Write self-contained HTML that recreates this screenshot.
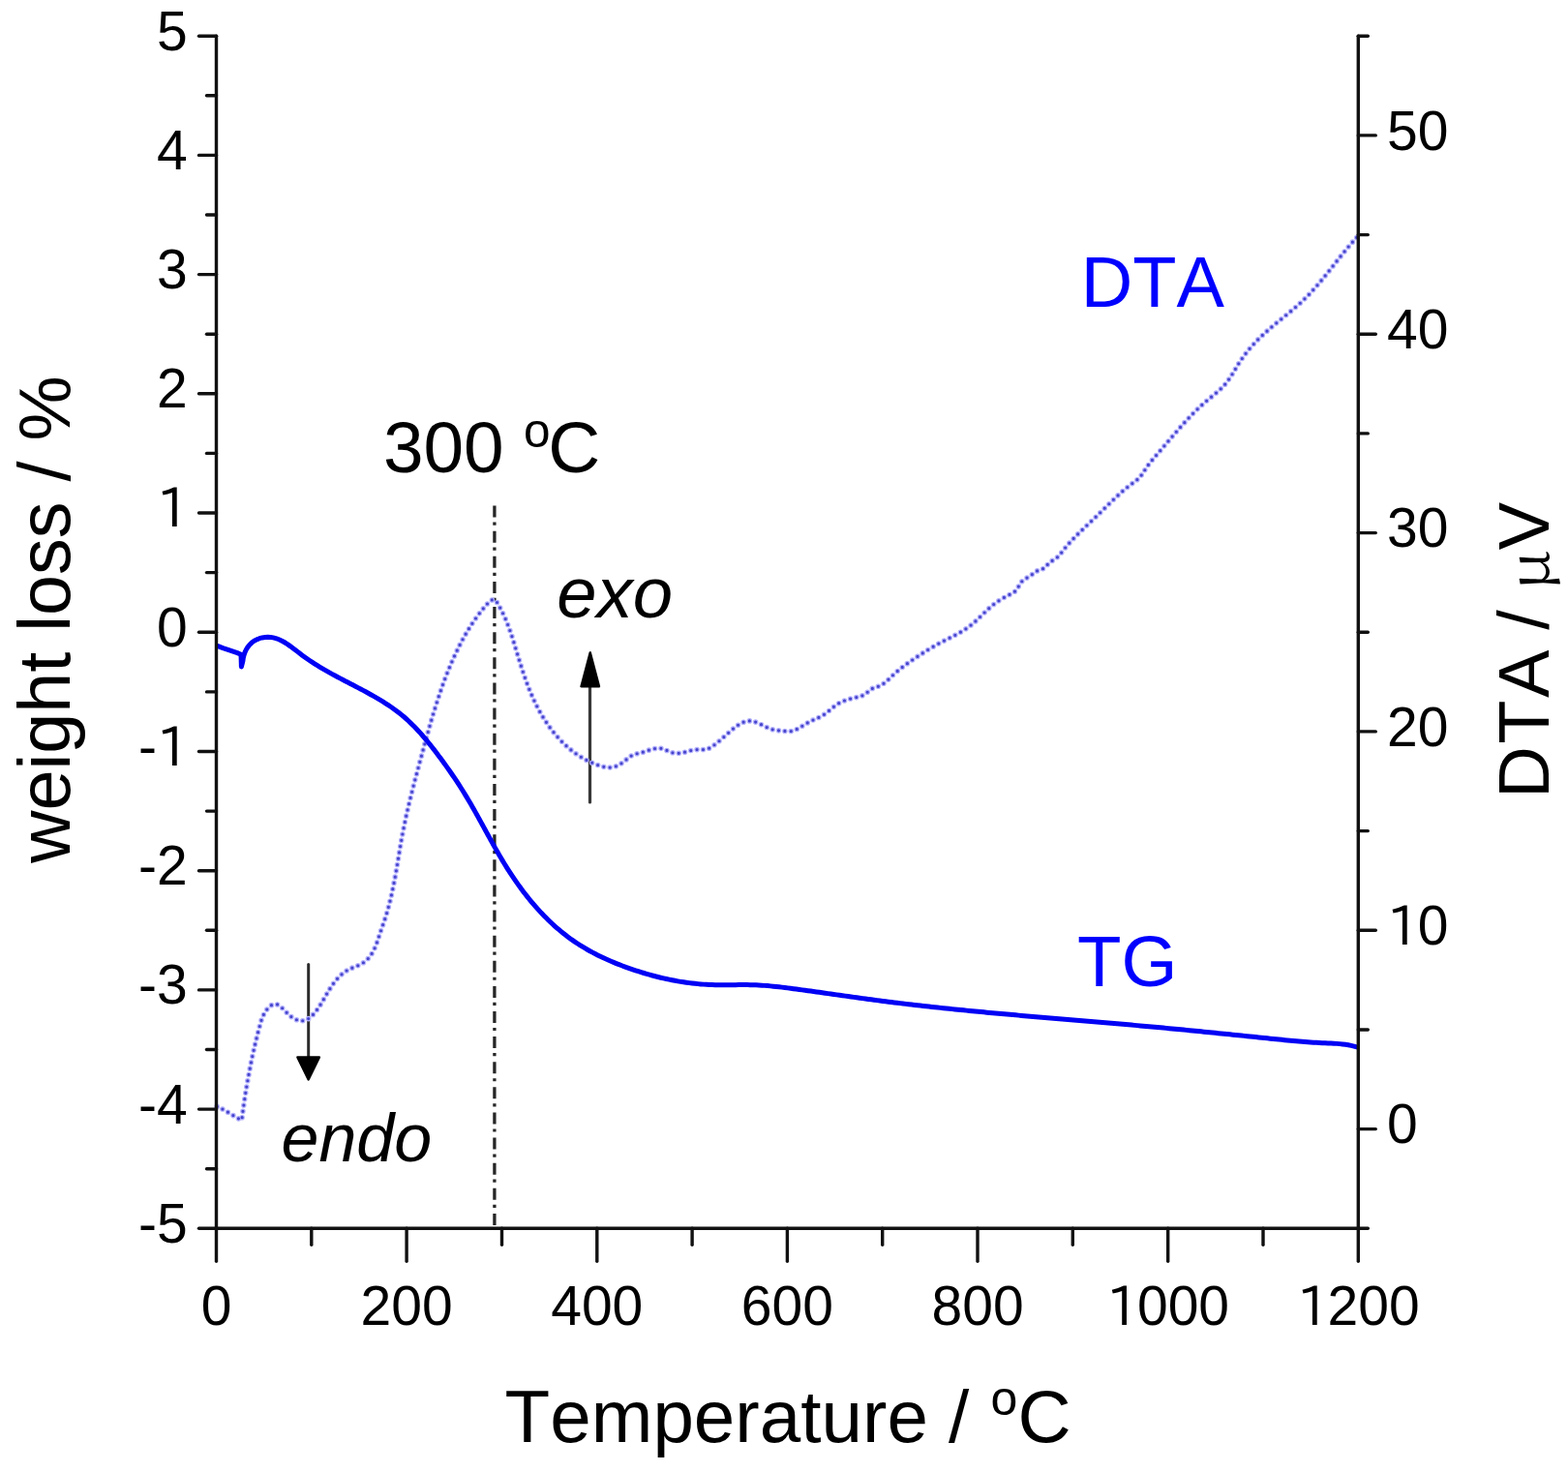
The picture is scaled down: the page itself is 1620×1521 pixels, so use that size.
<!DOCTYPE html>
<html><head><meta charset="utf-8"><title>TG-DTA</title>
<style>html,body{margin:0;padding:0;background:#fff;}svg{display:block;}text{font-family:'Liberation Sans', Arial, sans-serif;font-kerning:none;font-feature-settings:"kern" 0;}</style></head><body>
<svg width="1620" height="1521" viewBox="0 0 1620 1521">
<rect width="1620" height="1521" fill="#fff"/>
<g font-size="57" fill="#000">
<text x="142.92" y="1283.90"><tspan x="142.92" y="1283.90">-</tspan><tspan x="161.90" y="1283.90">5</tspan></text>
<text x="142.92" y="1160.69"><tspan x="142.92" y="1160.69">-</tspan><tspan x="161.90" y="1160.69">4</tspan></text>
<text x="142.92" y="1037.48"><tspan x="142.92" y="1037.48">-</tspan><tspan x="161.90" y="1037.48">3</tspan></text>
<text x="142.92" y="914.27"><tspan x="142.92" y="914.27">-</tspan><tspan x="161.90" y="914.27">2</tspan></text>
<text x="142.92" y="791.06"><tspan x="142.92" y="791.06">-</tspan><tspan x="161.70" y="791.56" font-family="IPAPGothic, IPAGothic, 'Liberation Sans', sans-serif" font-size="54.5">1</tspan></text>
<text x="161.90" y="667.85"><tspan x="161.90" y="667.85">0</tspan></text>
<text x="161.90" y="544.64"><tspan x="161.70" y="545.14" font-family="IPAPGothic, IPAGothic, 'Liberation Sans', sans-serif" font-size="54.5">1</tspan></text>
<text x="161.90" y="421.43"><tspan x="161.90" y="421.43">2</tspan></text>
<text x="161.90" y="298.22"><tspan x="161.90" y="298.22">3</tspan></text>
<text x="161.90" y="175.01"><tspan x="161.90" y="175.01">4</tspan></text>
<text x="161.90" y="51.80"><tspan x="161.90" y="51.80">5</tspan></text>
<text x="1433.00" y="1181.42"><tspan x="1433.00" y="1181.42">0</tspan></text>
<text x="1433.00" y="976.07"><tspan x="1432.80" y="976.57" font-family="IPAPGothic, IPAGothic, 'Liberation Sans', sans-serif" font-size="54.5">1</tspan><tspan x="1464.70" y="976.07">0</tspan></text>
<text x="1433.00" y="770.73"><tspan x="1433.00" y="770.73">2</tspan><tspan x="1464.70" y="770.73">0</tspan></text>
<text x="1433.00" y="565.37"><tspan x="1433.00" y="565.37">3</tspan><tspan x="1464.70" y="565.37">0</tspan></text>
<text x="1433.00" y="360.03"><tspan x="1433.00" y="360.03">4</tspan><tspan x="1464.70" y="360.03">0</tspan></text>
<text x="1433.00" y="154.68"><tspan x="1433.00" y="154.68">5</tspan><tspan x="1464.70" y="154.68">0</tspan></text>
<text x="207.65" y="1369.20"><tspan x="207.65" y="1369.20">0</tspan></text>
<text x="372.58" y="1369.20"><tspan x="372.58" y="1369.20">2</tspan><tspan x="404.28" y="1369.20">0</tspan><tspan x="435.98" y="1369.20">0</tspan></text>
<text x="569.22" y="1369.20"><tspan x="569.22" y="1369.20">4</tspan><tspan x="600.92" y="1369.20">0</tspan><tspan x="632.62" y="1369.20">0</tspan></text>
<text x="765.85" y="1369.20"><tspan x="765.85" y="1369.20">6</tspan><tspan x="797.55" y="1369.20">0</tspan><tspan x="829.25" y="1369.20">0</tspan></text>
<text x="962.48" y="1369.20"><tspan x="962.48" y="1369.20">8</tspan><tspan x="994.18" y="1369.20">0</tspan><tspan x="1025.88" y="1369.20">0</tspan></text>
<text x="1143.27" y="1369.20"><tspan x="1143.07" y="1369.70" font-family="IPAPGothic, IPAGothic, 'Liberation Sans', sans-serif" font-size="54.5">1</tspan><tspan x="1174.97" y="1369.20">0</tspan><tspan x="1206.67" y="1369.20">0</tspan><tspan x="1238.37" y="1369.20">0</tspan></text>
<text x="1339.90" y="1369.20"><tspan x="1339.70" y="1369.70" font-family="IPAPGothic, IPAGothic, 'Liberation Sans', sans-serif" font-size="54.5">1</tspan><tspan x="1371.60" y="1369.20">2</tspan><tspan x="1403.30" y="1369.20">0</tspan><tspan x="1435.00" y="1369.20">0</tspan></text>
</g>
<text x="521.6" y="1489.5" font-size="76.4" fill="#000">Temperature / <tspan x="1023.4" y="1462.3" font-size="50">o</tspan><tspan x="1051.4" y="1489.5">C</tspan></text>
<text transform="translate(72.4,892) rotate(-90)" font-size="75.5" fill="#000">weight loss / %</text>
<text transform="translate(1600.3,0) rotate(-90)" font-size="74" fill="#000"><tspan x="-824.7">D</tspan><tspan x="-768.8">T</tspan><tspan x="-721">A</tspan><tspan x="-650.7">/ </tspan></text>
<text transform="translate(1600.3,610.0) rotate(-90) scale(1.16,1)" style="font-family:'Noto Serif CJK SC', 'Liberation Serif', serif" font-size="57" fill="#000">&#956;</text>
<text transform="translate(1600.3,568.3) rotate(-90)" font-size="74" fill="#000">V</text>
<text x="395.9" y="488.2" font-size="74.8" fill="#000">300<tspan x="540.9" y="462.3" font-size="49.5">o</tspan><tspan x="566.3" y="488.2">C</tspan></text>
<text x="575.2" y="638.2" font-size="74.3" font-style="italic" fill="#000">exo</text>
<text x="290.5" y="1200.3" font-size="70" font-style="italic" fill="#000">endo</text>
<text x="1116.8" y="317.4" font-size="74.1" fill="#0000ff">DTA</text>
<text x="1113" y="1019.1" font-size="74.5" fill="#0000ff">TG</text>
<line x1="510.9" y1="522.6" x2="510.9" y2="1268.3" stroke="#262626" stroke-width="3.3" stroke-dasharray="12 4.9 3.2 6.02"/>
<line x1="318.7" y1="996.6" x2="318.7" y2="1093" stroke="#2a2a2a" stroke-width="3.0" stroke-linecap="round"/>
<path d="M307.4,1092.4 L329.9,1092.4 L318.65,1115.4 Z" fill="#000" stroke="#000" stroke-width="2.4" stroke-linejoin="round"/>
<line x1="609.5" y1="829" x2="609.5" y2="709" stroke="#383838" stroke-width="3.2" stroke-linecap="round"/>
<path d="M600.5,709.2 L619.0,709.2 L609.75,674.3 Z" fill="#000" stroke="#000" stroke-width="2.4" stroke-linejoin="round"/>
<path d="M224.11,1143.39 L226.04,1144.18 L227.93,1145.05 L229.79,1145.98 L231.62,1146.97 L233.43,1148.00 L235.22,1149.06 L237.00,1150.15 L238.77,1151.25 L240.55,1152.35 L242.32,1153.44 L244.11,1154.51 L245.92,1155.54 L247.75,1156.54 L249.61,1157.49 L250.01,1155.51 L250.26,1153.54 L250.52,1151.57 L250.78,1149.60 L251.04,1147.63 L251.31,1145.66 L251.59,1143.69 L251.87,1141.72 L252.16,1139.74 L252.45,1137.77 L252.74,1135.80 L253.04,1133.82 L253.35,1131.85 L253.66,1129.88 L253.97,1127.91 L254.29,1125.93 L254.62,1123.96 L254.95,1121.99 L255.28,1120.02 L255.62,1118.05 L255.97,1116.08 L256.32,1114.11 L256.68,1112.14 L257.04,1110.18 L257.41,1108.21 L257.78,1106.25 L258.16,1104.29 L258.55,1102.33 L258.94,1100.37 L259.33,1098.41 L259.73,1096.45 L260.14,1094.50 L260.55,1092.54 L260.97,1090.59 L261.39,1088.64 L261.82,1086.69 L262.26,1084.75 L262.70,1082.81 L263.15,1080.86 L263.60,1078.93 L264.06,1076.99 L264.53,1075.06 L265.00,1073.13 L265.48,1071.20 L265.97,1069.27 L266.46,1067.35 L266.95,1065.43 L267.46,1063.52 L267.97,1061.60 L268.48,1059.70 L269.01,1057.79 L269.55,1055.89 L270.14,1053.99 L270.80,1052.10 L271.56,1050.22 L272.43,1048.35 L273.44,1046.50 L274.61,1044.66 L275.92,1042.89 L277.34,1041.26 L278.85,1039.84 L280.41,1038.69 L282.00,1037.88 L283.58,1037.48 L285.13,1037.54 L286.66,1038.00 L288.17,1038.82 L289.68,1039.92 L291.18,1041.24 L292.69,1042.73 L294.22,1044.31 L295.77,1045.93 L297.35,1047.53 L298.98,1049.04 L300.65,1050.42 L302.36,1051.63 L304.10,1052.67 L305.85,1053.52 L307.62,1054.17 L309.38,1054.60 L311.13,1054.81 L312.87,1054.77 L314.57,1054.46 L316.23,1053.90 L317.85,1053.09 L319.43,1052.07 L320.97,1050.85 L322.45,1049.47 L323.89,1047.96 L325.28,1046.35 L326.62,1044.65 L327.90,1042.90 L329.13,1041.12 L330.31,1039.35 L331.43,1037.59 L332.50,1035.84 L333.54,1034.11 L334.55,1032.39 L335.53,1030.69 L336.51,1029.00 L337.48,1027.32 L338.45,1025.65 L339.43,1024.00 L340.43,1022.36 L341.46,1020.73 L342.52,1019.11 L343.63,1017.51 L344.79,1015.91 L346.00,1014.32 L347.28,1012.75 L348.62,1011.21 L350.02,1009.71 L351.48,1008.25 L352.99,1006.86 L354.57,1005.53 L356.19,1004.30 L357.87,1003.15 L359.60,1002.12 L361.38,1001.20 L363.21,1000.40 L365.06,999.66 L366.92,998.95 L368.77,998.24 L370.59,997.47 L372.37,996.61 L374.09,995.63 L375.75,994.52 L377.32,993.30 L378.82,991.98 L380.22,990.56 L381.53,989.06 L382.74,987.50 L383.86,985.87 L384.89,984.18 L385.84,982.44 L386.72,980.66 L387.54,978.84 L388.31,976.98 L389.03,975.10 L389.72,973.19 L390.38,971.27 L391.02,969.34 L391.66,967.41 L392.29,965.47 L392.92,963.55 L393.57,961.64 L394.23,959.73 L394.90,957.84 L395.56,955.95 L396.22,954.07 L396.87,952.18 L397.50,950.29 L398.12,948.40 L398.72,946.50 L399.31,944.60 L399.88,942.69 L400.43,940.78 L400.97,938.86 L401.49,936.94 L402.00,935.01 L402.49,933.08 L402.97,931.15 L403.44,929.21 L403.90,927.27 L404.35,925.33 L404.78,923.38 L405.21,921.44 L405.62,919.48 L406.03,917.53 L406.42,915.57 L406.81,913.61 L407.19,911.65 L407.57,909.69 L407.93,907.72 L408.30,905.75 L408.65,903.78 L409.00,901.81 L409.35,899.84 L409.69,897.87 L410.03,895.89 L410.36,893.92 L410.70,891.94 L411.03,889.96 L411.36,887.99 L411.69,886.01 L412.02,884.03 L412.35,882.06 L412.68,880.08 L413.01,878.10 L413.35,876.13 L413.68,874.15 L414.02,872.18 L414.37,870.20 L414.71,868.23 L415.07,866.26 L415.42,864.29 L415.79,862.32 L416.16,860.36 L416.53,858.39 L416.92,856.43 L417.31,854.47 L417.70,852.51 L418.11,850.55 L418.52,848.60 L418.93,846.64 L419.35,844.69 L419.78,842.74 L420.22,840.79 L420.66,838.84 L421.10,836.90 L421.55,834.95 L422.01,833.01 L422.47,831.07 L422.93,829.13 L423.40,827.19 L423.87,825.25 L424.35,823.31 L424.83,821.37 L425.32,819.44 L425.81,817.50 L426.30,815.57 L426.79,813.63 L427.29,811.70 L427.80,809.77 L428.30,807.83 L428.81,805.90 L429.32,803.97 L429.83,802.04 L430.34,800.11 L430.86,798.18 L431.37,796.25 L431.89,794.32 L432.41,792.39 L432.93,790.46 L433.45,788.52 L433.98,786.59 L434.50,784.66 L435.02,782.73 L435.55,780.80 L436.07,778.87 L436.60,776.94 L437.12,775.00 L437.65,773.07 L438.17,771.14 L438.70,769.20 L439.23,767.27 L439.76,765.34 L440.29,763.41 L440.82,761.48 L441.36,759.55 L441.90,757.62 L442.44,755.69 L442.98,753.76 L443.52,751.83 L444.07,749.90 L444.63,747.98 L445.18,746.06 L445.74,744.13 L446.31,742.21 L446.87,740.29 L447.45,738.37 L448.02,736.46 L448.60,734.54 L449.19,732.63 L449.78,730.72 L450.38,728.81 L450.98,726.91 L451.59,725.00 L452.20,723.10 L452.82,721.20 L453.45,719.31 L454.08,717.41 L454.72,715.52 L455.37,713.63 L456.02,711.75 L456.68,709.87 L457.35,707.99 L458.03,706.11 L458.71,704.24 L459.41,702.37 L460.11,700.51 L460.82,698.65 L461.54,696.79 L462.27,694.94 L463.00,693.09 L463.75,691.25 L464.51,689.40 L465.27,687.57 L466.05,685.74 L466.84,683.91 L467.63,682.09 L468.44,680.27 L469.26,678.45 L470.09,676.64 L470.93,674.84 L471.78,673.04 L472.65,671.25 L473.52,669.46 L474.41,667.68 L475.32,665.90 L476.23,664.13 L477.17,662.37 L478.11,660.61 L479.07,658.85 L480.05,657.11 L481.05,655.37 L482.06,653.64 L483.08,651.91 L484.13,650.19 L485.19,648.48 L486.27,646.78 L487.37,645.08 L488.49,643.39 L489.63,641.71 L490.79,640.04 L491.98,638.38 L493.18,636.72 L494.40,635.07 L495.65,633.44 L496.92,631.81 L498.21,630.19 L499.52,628.57 L500.86,626.97 L502.23,625.38 L503.61,623.80 L505.02,622.32 L506.42,621.06 L507.81,620.12 L509.17,619.64 L510.49,619.71 L511.76,620.45 L512.97,621.75 L514.13,623.43 L515.24,625.33 L516.31,627.27 L517.33,629.21 L518.32,631.13 L519.26,633.05 L520.17,634.96 L521.05,636.86 L521.89,638.75 L522.70,640.64 L523.48,642.53 L524.23,644.41 L524.96,646.28 L525.67,648.15 L526.35,650.02 L527.02,651.89 L527.66,653.76 L528.29,655.62 L528.91,657.49 L529.51,659.35 L530.10,661.22 L530.68,663.08 L531.26,664.95 L531.83,666.83 L532.40,668.70 L532.96,670.58 L533.53,672.47 L534.10,674.35 L534.67,676.25 L535.24,678.15 L535.82,680.05 L536.40,681.95 L536.99,683.85 L537.58,685.76 L538.18,687.67 L538.79,689.58 L539.40,691.48 L540.02,693.39 L540.65,695.30 L541.30,697.20 L541.95,699.10 L542.61,701.00 L543.28,702.90 L543.97,704.79 L544.67,706.68 L545.38,708.56 L546.11,710.44 L546.86,712.31 L547.61,714.17 L548.39,716.03 L549.18,717.88 L549.98,719.72 L550.81,721.56 L551.65,723.38 L552.51,725.20 L553.38,727.00 L554.27,728.80 L555.18,730.58 L556.11,732.36 L557.06,734.12 L558.02,735.87 L559.01,737.60 L560.01,739.33 L561.04,741.04 L562.08,742.73 L563.15,744.42 L564.23,746.08 L565.34,747.73 L566.46,749.37 L567.61,750.98 L568.78,752.59 L569.97,754.17 L571.19,755.73 L572.43,757.28 L573.69,758.81 L574.97,760.32 L576.27,761.81 L577.60,763.28 L578.96,764.73 L580.33,766.15 L581.73,767.55 L583.16,768.93 L584.61,770.29 L586.08,771.62 L587.57,772.92 L589.09,774.20 L590.63,775.44 L592.20,776.66 L593.79,777.85 L595.41,779.01 L597.05,780.14 L598.71,781.23 L600.40,782.29 L602.11,783.32 L603.84,784.31 L605.60,785.27 L607.38,786.19 L609.19,787.07 L611.02,787.91 L612.88,788.71 L614.76,789.48 L616.66,790.20 L618.59,790.88 L620.54,791.51 L622.50,792.05 L624.46,792.51 L626.42,792.84 L628.38,793.03 L630.31,793.06 L632.22,792.91 L634.10,792.55 L635.95,791.99 L637.75,791.25 L639.52,790.34 L641.24,789.31 L642.93,788.17 L644.57,786.94 L646.17,785.66 L647.75,784.35 L649.32,783.08 L650.91,781.88 L652.55,780.82 L654.25,779.93 L656.05,779.26 L657.93,778.79 L659.86,778.39 L661.79,777.95 L663.69,777.40 L665.59,776.78 L667.48,776.12 L669.38,775.46 L671.29,774.82 L673.23,774.24 L675.19,773.76 L677.17,773.41 L679.14,773.21 L681.10,773.19 L683.02,773.38 L684.89,773.81 L686.71,774.46 L688.50,775.23 L690.30,776.06 L692.13,776.86 L694.00,777.55 L695.95,778.05 L697.96,778.31 L699.99,778.37 L702.00,778.25 L703.97,777.98 L705.92,777.59 L707.84,777.12 L709.76,776.61 L711.68,776.08 L713.60,775.59 L715.53,775.15 L717.47,774.81 L719.44,774.61 L721.44,774.55 L723.45,774.56 L725.46,774.57 L727.44,774.50 L729.38,774.27 L731.27,773.80 L733.08,773.02 L734.82,772.01 L736.50,770.86 L738.12,769.67 L739.71,768.45 L741.25,767.22 L742.77,765.97 L744.26,764.70 L745.74,763.42 L747.21,762.12 L748.67,760.81 L750.14,759.49 L751.62,758.17 L753.12,756.83 L754.64,755.50 L756.20,754.15 L757.79,752.82 L759.41,751.52 L761.06,750.28 L762.74,749.11 L764.45,748.04 L766.18,747.09 L767.93,746.28 L769.70,745.63 L771.49,745.17 L773.29,744.91 L775.10,744.89 L776.93,745.09 L778.77,745.51 L780.62,746.10 L782.48,746.82 L784.34,747.66 L786.21,748.56 L788.09,749.50 L789.97,750.45 L791.85,751.38 L793.74,752.24 L795.63,753.00 L797.52,753.64 L799.41,754.12 L801.29,754.47 L803.18,754.71 L805.06,754.89 L806.94,755.04 L808.82,755.21 L810.69,755.42 L812.55,755.64 L814.40,755.77 L816.23,755.70 L818.04,755.40 L819.82,754.90 L821.60,754.22 L823.36,753.41 L825.11,752.48 L826.86,751.46 L828.61,750.39 L830.37,749.30 L832.13,748.20 L833.90,747.15 L835.68,746.15 L837.48,745.24 L839.29,744.38 L841.10,743.57 L842.90,742.77 L844.69,741.97 L846.45,741.14 L848.18,740.27 L849.87,739.32 L851.52,738.29 L853.13,737.16 L854.69,735.95 L856.24,734.69 L857.77,733.40 L859.31,732.10 L860.86,730.81 L862.44,729.55 L864.05,728.36 L865.72,727.24 L867.45,726.23 L869.24,725.32 L871.09,724.50 L872.98,723.78 L874.90,723.13 L876.84,722.54 L878.79,722.01 L880.75,721.53 L882.70,721.08 L884.63,720.66 L886.53,720.24 L888.38,719.77 L890.17,719.17 L891.88,718.37 L893.52,717.37 L895.09,716.21 L896.61,714.95 L898.11,713.65 L899.67,712.43 L901.34,711.41 L903.16,710.65 L905.07,710.05 L906.98,709.45 L908.81,708.72 L910.55,707.83 L912.21,706.81 L913.81,705.68 L915.35,704.44 L916.85,703.14 L918.32,701.78 L919.77,700.39 L921.21,698.98 L922.66,697.58 L924.13,696.21 L925.62,694.88 L927.13,693.57 L928.65,692.30 L930.20,691.05 L931.76,689.82 L933.34,688.62 L934.93,687.44 L936.53,686.27 L938.14,685.12 L939.76,683.98 L941.39,682.85 L943.02,681.73 L944.66,680.62 L946.31,679.50 L947.96,678.40 L949.61,677.30 L951.27,676.21 L952.94,675.12 L954.61,674.05 L956.30,672.98 L957.98,671.93 L959.68,670.88 L961.38,669.85 L963.10,668.84 L964.82,667.83 L966.55,666.85 L968.29,665.88 L970.04,664.92 L971.80,663.98 L973.57,663.06 L975.34,662.15 L977.12,661.25 L978.90,660.35 L980.68,659.45 L982.46,658.55 L984.23,657.65 L986.00,656.73 L987.76,655.81 L989.50,654.86 L991.24,653.90 L992.95,652.91 L994.65,651.89 L996.33,650.84 L997.98,649.76 L999.62,648.64 L1001.22,647.48 L1002.79,646.28 L1004.34,645.02 L1005.86,643.73 L1007.36,642.41 L1008.84,641.05 L1010.30,639.67 L1011.75,638.28 L1013.20,636.87 L1014.64,635.45 L1016.09,634.04 L1017.53,632.63 L1018.99,631.23 L1020.46,629.85 L1021.94,628.50 L1023.45,627.17 L1024.97,625.87 L1026.53,624.62 L1028.11,623.41 L1029.73,622.24 L1031.37,621.12 L1033.04,620.04 L1034.73,619.00 L1036.45,617.99 L1038.17,617.01 L1039.91,616.06 L1041.66,615.13 L1043.42,614.22 L1045.17,613.32 L1046.87,612.36 L1048.43,611.24 L1049.79,609.89 L1050.97,608.31 L1052.03,606.60 L1053.05,604.83 L1054.09,603.08 L1055.21,601.43 L1056.50,599.97 L1058.00,598.77 L1059.69,597.77 L1061.46,596.83 L1063.21,595.82 L1064.90,594.67 L1066.53,593.45 L1068.14,592.21 L1069.74,591.04 L1071.38,589.98 L1073.06,589.12 L1074.81,588.51 L1076.58,588.03 L1078.23,587.43 L1079.65,586.47 L1080.87,585.16 L1082.05,583.68 L1083.33,582.25 L1084.80,580.99 L1086.42,579.85 L1088.12,578.77 L1089.83,577.69 L1091.49,576.56 L1093.03,575.30 L1094.41,573.88 L1095.68,572.35 L1096.88,570.76 L1098.10,569.17 L1099.33,567.60 L1100.59,566.05 L1101.86,564.53 L1103.16,563.01 L1104.48,561.52 L1105.81,560.04 L1107.16,558.57 L1108.53,557.12 L1109.90,555.68 L1111.30,554.26 L1112.70,552.84 L1114.11,551.43 L1115.54,550.03 L1116.97,548.63 L1118.40,547.25 L1119.85,545.86 L1121.30,544.48 L1122.75,543.11 L1124.20,541.73 L1125.65,540.35 L1127.11,538.98 L1128.56,537.60 L1130.01,536.22 L1131.46,534.84 L1132.90,533.45 L1134.33,532.06 L1135.76,530.66 L1137.19,529.25 L1138.61,527.85 L1140.03,526.44 L1141.45,525.03 L1142.87,523.63 L1144.29,522.22 L1145.72,520.82 L1147.14,519.42 L1148.57,518.03 L1150.01,516.64 L1151.45,515.26 L1152.91,513.89 L1154.37,512.53 L1155.84,511.18 L1157.32,509.84 L1158.81,508.51 L1160.32,507.20 L1161.84,505.91 L1163.38,504.63 L1164.94,503.37 L1166.51,502.13 L1168.10,500.91 L1169.71,499.71 L1171.33,498.52 L1172.93,497.31 L1174.48,496.07 L1175.96,494.75 L1177.34,493.35 L1178.61,491.85 L1179.80,490.27 L1180.93,488.64 L1182.02,486.97 L1183.10,485.29 L1184.19,483.61 L1185.32,481.95 L1186.48,480.32 L1187.69,478.73 L1188.93,477.16 L1190.21,475.62 L1191.50,474.09 L1192.80,472.57 L1194.12,471.06 L1195.43,469.55 L1196.74,468.04 L1198.05,466.52 L1199.35,465.00 L1200.65,463.48 L1201.94,461.96 L1203.24,460.44 L1204.53,458.91 L1205.82,457.39 L1207.11,455.87 L1208.41,454.34 L1209.70,452.82 L1210.99,451.30 L1212.29,449.79 L1213.59,448.27 L1214.89,446.76 L1216.19,445.25 L1217.50,443.75 L1218.81,442.25 L1220.13,440.76 L1221.46,439.27 L1222.79,437.79 L1224.13,436.31 L1225.47,434.84 L1226.83,433.38 L1228.19,431.93 L1229.56,430.48 L1230.94,429.04 L1232.34,427.62 L1233.74,426.20 L1235.15,424.79 L1236.58,423.39 L1238.02,422.01 L1239.47,420.63 L1240.94,419.27 L1242.42,417.92 L1243.92,416.58 L1245.43,415.26 L1246.96,413.95 L1248.50,412.65 L1250.06,411.37 L1251.62,410.09 L1253.19,408.81 L1254.74,407.53 L1256.29,406.24 L1257.82,404.93 L1259.32,403.61 L1260.79,402.26 L1262.23,400.88 L1263.62,399.47 L1264.97,398.02 L1266.26,396.52 L1267.49,394.98 L1268.68,393.41 L1269.82,391.79 L1270.93,390.15 L1272.01,388.48 L1273.06,386.79 L1274.10,385.09 L1275.13,383.38 L1276.15,381.66 L1277.18,379.94 L1278.21,378.23 L1279.26,376.52 L1280.33,374.83 L1281.43,373.16 L1282.55,371.50 L1283.69,369.86 L1284.86,368.24 L1286.05,366.64 L1287.26,365.05 L1288.49,363.48 L1289.75,361.92 L1291.03,360.38 L1292.32,358.86 L1293.64,357.36 L1294.97,355.88 L1296.33,354.41 L1297.70,352.95 L1299.09,351.52 L1300.50,350.10 L1301.93,348.70 L1303.37,347.31 L1304.82,345.94 L1306.29,344.59 L1307.77,343.25 L1309.27,341.92 L1310.77,340.60 L1312.29,339.29 L1313.81,338.00 L1315.34,336.70 L1316.88,335.42 L1318.42,334.14 L1319.96,332.87 L1321.51,331.60 L1323.07,330.33 L1324.62,329.07 L1326.17,327.80 L1327.72,326.53 L1329.27,325.26 L1330.81,323.99 L1332.35,322.72 L1333.89,321.44 L1335.42,320.15 L1336.94,318.85 L1338.45,317.55 L1339.95,316.24 L1341.44,314.91 L1342.92,313.58 L1344.38,312.23 L1345.83,310.87 L1347.27,309.49 L1348.69,308.10 L1350.09,306.69 L1351.48,305.27 L1352.85,303.83 L1354.22,302.39 L1355.57,300.92 L1356.90,299.45 L1358.23,297.97 L1359.54,296.47 L1360.85,294.97 L1362.14,293.45 L1363.43,291.93 L1364.71,290.40 L1365.98,288.86 L1367.25,287.32 L1368.51,285.77 L1369.77,284.22 L1371.02,282.66 L1372.26,281.09 L1373.51,279.53 L1374.75,277.96 L1375.99,276.39 L1377.23,274.82 L1378.47,273.25 L1379.71,271.67 L1380.95,270.10 L1382.19,268.53 L1383.43,266.97 L1384.68,265.40 L1385.93,263.84 L1387.19,262.28 L1388.45,260.73 L1389.72,259.19 L1390.99,257.65 L1392.27,256.11 L1393.56,254.59 L1394.86,253.07 L1396.16,251.56 L1397.48,250.06 L1398.81,248.57 L1400.15,247.09 L1401.50,245.62 L1402.86,244.17 L1404.24,242.72" fill="none" stroke="#b4b2fc" stroke-width="5.6" stroke-linecap="round" stroke-dasharray="0 6.4"/>
<path d="M224.11,1143.39 L226.04,1144.18 L227.93,1145.05 L229.79,1145.98 L231.62,1146.97 L233.43,1148.00 L235.22,1149.06 L237.00,1150.15 L238.77,1151.25 L240.55,1152.35 L242.32,1153.44 L244.11,1154.51 L245.92,1155.54 L247.75,1156.54 L249.61,1157.49 L250.01,1155.51 L250.26,1153.54 L250.52,1151.57 L250.78,1149.60 L251.04,1147.63 L251.31,1145.66 L251.59,1143.69 L251.87,1141.72 L252.16,1139.74 L252.45,1137.77 L252.74,1135.80 L253.04,1133.82 L253.35,1131.85 L253.66,1129.88 L253.97,1127.91 L254.29,1125.93 L254.62,1123.96 L254.95,1121.99 L255.28,1120.02 L255.62,1118.05 L255.97,1116.08 L256.32,1114.11 L256.68,1112.14 L257.04,1110.18 L257.41,1108.21 L257.78,1106.25 L258.16,1104.29 L258.55,1102.33 L258.94,1100.37 L259.33,1098.41 L259.73,1096.45 L260.14,1094.50 L260.55,1092.54 L260.97,1090.59 L261.39,1088.64 L261.82,1086.69 L262.26,1084.75 L262.70,1082.81 L263.15,1080.86 L263.60,1078.93 L264.06,1076.99 L264.53,1075.06 L265.00,1073.13 L265.48,1071.20 L265.97,1069.27 L266.46,1067.35 L266.95,1065.43 L267.46,1063.52 L267.97,1061.60 L268.48,1059.70 L269.01,1057.79 L269.55,1055.89 L270.14,1053.99 L270.80,1052.10 L271.56,1050.22 L272.43,1048.35 L273.44,1046.50 L274.61,1044.66 L275.92,1042.89 L277.34,1041.26 L278.85,1039.84 L280.41,1038.69 L282.00,1037.88 L283.58,1037.48 L285.13,1037.54 L286.66,1038.00 L288.17,1038.82 L289.68,1039.92 L291.18,1041.24 L292.69,1042.73 L294.22,1044.31 L295.77,1045.93 L297.35,1047.53 L298.98,1049.04 L300.65,1050.42 L302.36,1051.63 L304.10,1052.67 L305.85,1053.52 L307.62,1054.17 L309.38,1054.60 L311.13,1054.81 L312.87,1054.77 L314.57,1054.46 L316.23,1053.90 L317.85,1053.09 L319.43,1052.07 L320.97,1050.85 L322.45,1049.47 L323.89,1047.96 L325.28,1046.35 L326.62,1044.65 L327.90,1042.90 L329.13,1041.12 L330.31,1039.35 L331.43,1037.59 L332.50,1035.84 L333.54,1034.11 L334.55,1032.39 L335.53,1030.69 L336.51,1029.00 L337.48,1027.32 L338.45,1025.65 L339.43,1024.00 L340.43,1022.36 L341.46,1020.73 L342.52,1019.11 L343.63,1017.51 L344.79,1015.91 L346.00,1014.32 L347.28,1012.75 L348.62,1011.21 L350.02,1009.71 L351.48,1008.25 L352.99,1006.86 L354.57,1005.53 L356.19,1004.30 L357.87,1003.15 L359.60,1002.12 L361.38,1001.20 L363.21,1000.40 L365.06,999.66 L366.92,998.95 L368.77,998.24 L370.59,997.47 L372.37,996.61 L374.09,995.63 L375.75,994.52 L377.32,993.30 L378.82,991.98 L380.22,990.56 L381.53,989.06 L382.74,987.50 L383.86,985.87 L384.89,984.18 L385.84,982.44 L386.72,980.66 L387.54,978.84 L388.31,976.98 L389.03,975.10 L389.72,973.19 L390.38,971.27 L391.02,969.34 L391.66,967.41 L392.29,965.47 L392.92,963.55 L393.57,961.64 L394.23,959.73 L394.90,957.84 L395.56,955.95 L396.22,954.07 L396.87,952.18 L397.50,950.29 L398.12,948.40 L398.72,946.50 L399.31,944.60 L399.88,942.69 L400.43,940.78 L400.97,938.86 L401.49,936.94 L402.00,935.01 L402.49,933.08 L402.97,931.15 L403.44,929.21 L403.90,927.27 L404.35,925.33 L404.78,923.38 L405.21,921.44 L405.62,919.48 L406.03,917.53 L406.42,915.57 L406.81,913.61 L407.19,911.65 L407.57,909.69 L407.93,907.72 L408.30,905.75 L408.65,903.78 L409.00,901.81 L409.35,899.84 L409.69,897.87 L410.03,895.89 L410.36,893.92 L410.70,891.94 L411.03,889.96 L411.36,887.99 L411.69,886.01 L412.02,884.03 L412.35,882.06 L412.68,880.08 L413.01,878.10 L413.35,876.13 L413.68,874.15 L414.02,872.18 L414.37,870.20 L414.71,868.23 L415.07,866.26 L415.42,864.29 L415.79,862.32 L416.16,860.36 L416.53,858.39 L416.92,856.43 L417.31,854.47 L417.70,852.51 L418.11,850.55 L418.52,848.60 L418.93,846.64 L419.35,844.69 L419.78,842.74 L420.22,840.79 L420.66,838.84 L421.10,836.90 L421.55,834.95 L422.01,833.01 L422.47,831.07 L422.93,829.13 L423.40,827.19 L423.87,825.25 L424.35,823.31 L424.83,821.37 L425.32,819.44 L425.81,817.50 L426.30,815.57 L426.79,813.63 L427.29,811.70 L427.80,809.77 L428.30,807.83 L428.81,805.90 L429.32,803.97 L429.83,802.04 L430.34,800.11 L430.86,798.18 L431.37,796.25 L431.89,794.32 L432.41,792.39 L432.93,790.46 L433.45,788.52 L433.98,786.59 L434.50,784.66 L435.02,782.73 L435.55,780.80 L436.07,778.87 L436.60,776.94 L437.12,775.00 L437.65,773.07 L438.17,771.14 L438.70,769.20 L439.23,767.27 L439.76,765.34 L440.29,763.41 L440.82,761.48 L441.36,759.55 L441.90,757.62 L442.44,755.69 L442.98,753.76 L443.52,751.83 L444.07,749.90 L444.63,747.98 L445.18,746.06 L445.74,744.13 L446.31,742.21 L446.87,740.29 L447.45,738.37 L448.02,736.46 L448.60,734.54 L449.19,732.63 L449.78,730.72 L450.38,728.81 L450.98,726.91 L451.59,725.00 L452.20,723.10 L452.82,721.20 L453.45,719.31 L454.08,717.41 L454.72,715.52 L455.37,713.63 L456.02,711.75 L456.68,709.87 L457.35,707.99 L458.03,706.11 L458.71,704.24 L459.41,702.37 L460.11,700.51 L460.82,698.65 L461.54,696.79 L462.27,694.94 L463.00,693.09 L463.75,691.25 L464.51,689.40 L465.27,687.57 L466.05,685.74 L466.84,683.91 L467.63,682.09 L468.44,680.27 L469.26,678.45 L470.09,676.64 L470.93,674.84 L471.78,673.04 L472.65,671.25 L473.52,669.46 L474.41,667.68 L475.32,665.90 L476.23,664.13 L477.17,662.37 L478.11,660.61 L479.07,658.85 L480.05,657.11 L481.05,655.37 L482.06,653.64 L483.08,651.91 L484.13,650.19 L485.19,648.48 L486.27,646.78 L487.37,645.08 L488.49,643.39 L489.63,641.71 L490.79,640.04 L491.98,638.38 L493.18,636.72 L494.40,635.07 L495.65,633.44 L496.92,631.81 L498.21,630.19 L499.52,628.57 L500.86,626.97 L502.23,625.38 L503.61,623.80 L505.02,622.32 L506.42,621.06 L507.81,620.12 L509.17,619.64 L510.49,619.71 L511.76,620.45 L512.97,621.75 L514.13,623.43 L515.24,625.33 L516.31,627.27 L517.33,629.21 L518.32,631.13 L519.26,633.05 L520.17,634.96 L521.05,636.86 L521.89,638.75 L522.70,640.64 L523.48,642.53 L524.23,644.41 L524.96,646.28 L525.67,648.15 L526.35,650.02 L527.02,651.89 L527.66,653.76 L528.29,655.62 L528.91,657.49 L529.51,659.35 L530.10,661.22 L530.68,663.08 L531.26,664.95 L531.83,666.83 L532.40,668.70 L532.96,670.58 L533.53,672.47 L534.10,674.35 L534.67,676.25 L535.24,678.15 L535.82,680.05 L536.40,681.95 L536.99,683.85 L537.58,685.76 L538.18,687.67 L538.79,689.58 L539.40,691.48 L540.02,693.39 L540.65,695.30 L541.30,697.20 L541.95,699.10 L542.61,701.00 L543.28,702.90 L543.97,704.79 L544.67,706.68 L545.38,708.56 L546.11,710.44 L546.86,712.31 L547.61,714.17 L548.39,716.03 L549.18,717.88 L549.98,719.72 L550.81,721.56 L551.65,723.38 L552.51,725.20 L553.38,727.00 L554.27,728.80 L555.18,730.58 L556.11,732.36 L557.06,734.12 L558.02,735.87 L559.01,737.60 L560.01,739.33 L561.04,741.04 L562.08,742.73 L563.15,744.42 L564.23,746.08 L565.34,747.73 L566.46,749.37 L567.61,750.98 L568.78,752.59 L569.97,754.17 L571.19,755.73 L572.43,757.28 L573.69,758.81 L574.97,760.32 L576.27,761.81 L577.60,763.28 L578.96,764.73 L580.33,766.15 L581.73,767.55 L583.16,768.93 L584.61,770.29 L586.08,771.62 L587.57,772.92 L589.09,774.20 L590.63,775.44 L592.20,776.66 L593.79,777.85 L595.41,779.01 L597.05,780.14 L598.71,781.23 L600.40,782.29 L602.11,783.32 L603.84,784.31 L605.60,785.27 L607.38,786.19 L609.19,787.07 L611.02,787.91 L612.88,788.71 L614.76,789.48 L616.66,790.20 L618.59,790.88 L620.54,791.51 L622.50,792.05 L624.46,792.51 L626.42,792.84 L628.38,793.03 L630.31,793.06 L632.22,792.91 L634.10,792.55 L635.95,791.99 L637.75,791.25 L639.52,790.34 L641.24,789.31 L642.93,788.17 L644.57,786.94 L646.17,785.66 L647.75,784.35 L649.32,783.08 L650.91,781.88 L652.55,780.82 L654.25,779.93 L656.05,779.26 L657.93,778.79 L659.86,778.39 L661.79,777.95 L663.69,777.40 L665.59,776.78 L667.48,776.12 L669.38,775.46 L671.29,774.82 L673.23,774.24 L675.19,773.76 L677.17,773.41 L679.14,773.21 L681.10,773.19 L683.02,773.38 L684.89,773.81 L686.71,774.46 L688.50,775.23 L690.30,776.06 L692.13,776.86 L694.00,777.55 L695.95,778.05 L697.96,778.31 L699.99,778.37 L702.00,778.25 L703.97,777.98 L705.92,777.59 L707.84,777.12 L709.76,776.61 L711.68,776.08 L713.60,775.59 L715.53,775.15 L717.47,774.81 L719.44,774.61 L721.44,774.55 L723.45,774.56 L725.46,774.57 L727.44,774.50 L729.38,774.27 L731.27,773.80 L733.08,773.02 L734.82,772.01 L736.50,770.86 L738.12,769.67 L739.71,768.45 L741.25,767.22 L742.77,765.97 L744.26,764.70 L745.74,763.42 L747.21,762.12 L748.67,760.81 L750.14,759.49 L751.62,758.17 L753.12,756.83 L754.64,755.50 L756.20,754.15 L757.79,752.82 L759.41,751.52 L761.06,750.28 L762.74,749.11 L764.45,748.04 L766.18,747.09 L767.93,746.28 L769.70,745.63 L771.49,745.17 L773.29,744.91 L775.10,744.89 L776.93,745.09 L778.77,745.51 L780.62,746.10 L782.48,746.82 L784.34,747.66 L786.21,748.56 L788.09,749.50 L789.97,750.45 L791.85,751.38 L793.74,752.24 L795.63,753.00 L797.52,753.64 L799.41,754.12 L801.29,754.47 L803.18,754.71 L805.06,754.89 L806.94,755.04 L808.82,755.21 L810.69,755.42 L812.55,755.64 L814.40,755.77 L816.23,755.70 L818.04,755.40 L819.82,754.90 L821.60,754.22 L823.36,753.41 L825.11,752.48 L826.86,751.46 L828.61,750.39 L830.37,749.30 L832.13,748.20 L833.90,747.15 L835.68,746.15 L837.48,745.24 L839.29,744.38 L841.10,743.57 L842.90,742.77 L844.69,741.97 L846.45,741.14 L848.18,740.27 L849.87,739.32 L851.52,738.29 L853.13,737.16 L854.69,735.95 L856.24,734.69 L857.77,733.40 L859.31,732.10 L860.86,730.81 L862.44,729.55 L864.05,728.36 L865.72,727.24 L867.45,726.23 L869.24,725.32 L871.09,724.50 L872.98,723.78 L874.90,723.13 L876.84,722.54 L878.79,722.01 L880.75,721.53 L882.70,721.08 L884.63,720.66 L886.53,720.24 L888.38,719.77 L890.17,719.17 L891.88,718.37 L893.52,717.37 L895.09,716.21 L896.61,714.95 L898.11,713.65 L899.67,712.43 L901.34,711.41 L903.16,710.65 L905.07,710.05 L906.98,709.45 L908.81,708.72 L910.55,707.83 L912.21,706.81 L913.81,705.68 L915.35,704.44 L916.85,703.14 L918.32,701.78 L919.77,700.39 L921.21,698.98 L922.66,697.58 L924.13,696.21 L925.62,694.88 L927.13,693.57 L928.65,692.30 L930.20,691.05 L931.76,689.82 L933.34,688.62 L934.93,687.44 L936.53,686.27 L938.14,685.12 L939.76,683.98 L941.39,682.85 L943.02,681.73 L944.66,680.62 L946.31,679.50 L947.96,678.40 L949.61,677.30 L951.27,676.21 L952.94,675.12 L954.61,674.05 L956.30,672.98 L957.98,671.93 L959.68,670.88 L961.38,669.85 L963.10,668.84 L964.82,667.83 L966.55,666.85 L968.29,665.88 L970.04,664.92 L971.80,663.98 L973.57,663.06 L975.34,662.15 L977.12,661.25 L978.90,660.35 L980.68,659.45 L982.46,658.55 L984.23,657.65 L986.00,656.73 L987.76,655.81 L989.50,654.86 L991.24,653.90 L992.95,652.91 L994.65,651.89 L996.33,650.84 L997.98,649.76 L999.62,648.64 L1001.22,647.48 L1002.79,646.28 L1004.34,645.02 L1005.86,643.73 L1007.36,642.41 L1008.84,641.05 L1010.30,639.67 L1011.75,638.28 L1013.20,636.87 L1014.64,635.45 L1016.09,634.04 L1017.53,632.63 L1018.99,631.23 L1020.46,629.85 L1021.94,628.50 L1023.45,627.17 L1024.97,625.87 L1026.53,624.62 L1028.11,623.41 L1029.73,622.24 L1031.37,621.12 L1033.04,620.04 L1034.73,619.00 L1036.45,617.99 L1038.17,617.01 L1039.91,616.06 L1041.66,615.13 L1043.42,614.22 L1045.17,613.32 L1046.87,612.36 L1048.43,611.24 L1049.79,609.89 L1050.97,608.31 L1052.03,606.60 L1053.05,604.83 L1054.09,603.08 L1055.21,601.43 L1056.50,599.97 L1058.00,598.77 L1059.69,597.77 L1061.46,596.83 L1063.21,595.82 L1064.90,594.67 L1066.53,593.45 L1068.14,592.21 L1069.74,591.04 L1071.38,589.98 L1073.06,589.12 L1074.81,588.51 L1076.58,588.03 L1078.23,587.43 L1079.65,586.47 L1080.87,585.16 L1082.05,583.68 L1083.33,582.25 L1084.80,580.99 L1086.42,579.85 L1088.12,578.77 L1089.83,577.69 L1091.49,576.56 L1093.03,575.30 L1094.41,573.88 L1095.68,572.35 L1096.88,570.76 L1098.10,569.17 L1099.33,567.60 L1100.59,566.05 L1101.86,564.53 L1103.16,563.01 L1104.48,561.52 L1105.81,560.04 L1107.16,558.57 L1108.53,557.12 L1109.90,555.68 L1111.30,554.26 L1112.70,552.84 L1114.11,551.43 L1115.54,550.03 L1116.97,548.63 L1118.40,547.25 L1119.85,545.86 L1121.30,544.48 L1122.75,543.11 L1124.20,541.73 L1125.65,540.35 L1127.11,538.98 L1128.56,537.60 L1130.01,536.22 L1131.46,534.84 L1132.90,533.45 L1134.33,532.06 L1135.76,530.66 L1137.19,529.25 L1138.61,527.85 L1140.03,526.44 L1141.45,525.03 L1142.87,523.63 L1144.29,522.22 L1145.72,520.82 L1147.14,519.42 L1148.57,518.03 L1150.01,516.64 L1151.45,515.26 L1152.91,513.89 L1154.37,512.53 L1155.84,511.18 L1157.32,509.84 L1158.81,508.51 L1160.32,507.20 L1161.84,505.91 L1163.38,504.63 L1164.94,503.37 L1166.51,502.13 L1168.10,500.91 L1169.71,499.71 L1171.33,498.52 L1172.93,497.31 L1174.48,496.07 L1175.96,494.75 L1177.34,493.35 L1178.61,491.85 L1179.80,490.27 L1180.93,488.64 L1182.02,486.97 L1183.10,485.29 L1184.19,483.61 L1185.32,481.95 L1186.48,480.32 L1187.69,478.73 L1188.93,477.16 L1190.21,475.62 L1191.50,474.09 L1192.80,472.57 L1194.12,471.06 L1195.43,469.55 L1196.74,468.04 L1198.05,466.52 L1199.35,465.00 L1200.65,463.48 L1201.94,461.96 L1203.24,460.44 L1204.53,458.91 L1205.82,457.39 L1207.11,455.87 L1208.41,454.34 L1209.70,452.82 L1210.99,451.30 L1212.29,449.79 L1213.59,448.27 L1214.89,446.76 L1216.19,445.25 L1217.50,443.75 L1218.81,442.25 L1220.13,440.76 L1221.46,439.27 L1222.79,437.79 L1224.13,436.31 L1225.47,434.84 L1226.83,433.38 L1228.19,431.93 L1229.56,430.48 L1230.94,429.04 L1232.34,427.62 L1233.74,426.20 L1235.15,424.79 L1236.58,423.39 L1238.02,422.01 L1239.47,420.63 L1240.94,419.27 L1242.42,417.92 L1243.92,416.58 L1245.43,415.26 L1246.96,413.95 L1248.50,412.65 L1250.06,411.37 L1251.62,410.09 L1253.19,408.81 L1254.74,407.53 L1256.29,406.24 L1257.82,404.93 L1259.32,403.61 L1260.79,402.26 L1262.23,400.88 L1263.62,399.47 L1264.97,398.02 L1266.26,396.52 L1267.49,394.98 L1268.68,393.41 L1269.82,391.79 L1270.93,390.15 L1272.01,388.48 L1273.06,386.79 L1274.10,385.09 L1275.13,383.38 L1276.15,381.66 L1277.18,379.94 L1278.21,378.23 L1279.26,376.52 L1280.33,374.83 L1281.43,373.16 L1282.55,371.50 L1283.69,369.86 L1284.86,368.24 L1286.05,366.64 L1287.26,365.05 L1288.49,363.48 L1289.75,361.92 L1291.03,360.38 L1292.32,358.86 L1293.64,357.36 L1294.97,355.88 L1296.33,354.41 L1297.70,352.95 L1299.09,351.52 L1300.50,350.10 L1301.93,348.70 L1303.37,347.31 L1304.82,345.94 L1306.29,344.59 L1307.77,343.25 L1309.27,341.92 L1310.77,340.60 L1312.29,339.29 L1313.81,338.00 L1315.34,336.70 L1316.88,335.42 L1318.42,334.14 L1319.96,332.87 L1321.51,331.60 L1323.07,330.33 L1324.62,329.07 L1326.17,327.80 L1327.72,326.53 L1329.27,325.26 L1330.81,323.99 L1332.35,322.72 L1333.89,321.44 L1335.42,320.15 L1336.94,318.85 L1338.45,317.55 L1339.95,316.24 L1341.44,314.91 L1342.92,313.58 L1344.38,312.23 L1345.83,310.87 L1347.27,309.49 L1348.69,308.10 L1350.09,306.69 L1351.48,305.27 L1352.85,303.83 L1354.22,302.39 L1355.57,300.92 L1356.90,299.45 L1358.23,297.97 L1359.54,296.47 L1360.85,294.97 L1362.14,293.45 L1363.43,291.93 L1364.71,290.40 L1365.98,288.86 L1367.25,287.32 L1368.51,285.77 L1369.77,284.22 L1371.02,282.66 L1372.26,281.09 L1373.51,279.53 L1374.75,277.96 L1375.99,276.39 L1377.23,274.82 L1378.47,273.25 L1379.71,271.67 L1380.95,270.10 L1382.19,268.53 L1383.43,266.97 L1384.68,265.40 L1385.93,263.84 L1387.19,262.28 L1388.45,260.73 L1389.72,259.19 L1390.99,257.65 L1392.27,256.11 L1393.56,254.59 L1394.86,253.07 L1396.16,251.56 L1397.48,250.06 L1398.81,248.57 L1400.15,247.09 L1401.50,245.62 L1402.86,244.17 L1404.24,242.72" fill="none" stroke="#4644cc" stroke-width="3.2" stroke-linecap="round" stroke-dasharray="0 6.4"/>
<path d="M225.20,667.70 L230.30,669.70 L237.80,672.20 L245.20,674.60 L249.00,676.20 L249.40,689.00 L250.88,683.23 L251.25,680.16 L251.96,677.12 L252.99,674.14 L254.33,671.30 L255.97,668.64 L257.90,666.21 L260.10,664.09 L262.55,662.29 L265.21,660.83 L268.01,659.71 L270.90,658.91 L273.82,658.44 L276.71,658.28 L279.54,658.43 L282.29,658.87 L284.98,659.58 L287.61,660.52 L290.18,661.67 L292.72,663.00 L295.22,664.49 L297.69,666.11 L300.14,667.84 L302.58,669.65 L305.01,671.51 L307.44,673.40 L309.89,675.29 L312.35,677.15 L314.83,678.98 L317.34,680.75 L319.86,682.49 L322.41,684.18 L324.97,685.84 L327.55,687.46 L330.15,689.05 L332.76,690.61 L335.38,692.14 L338.01,693.65 L340.65,695.13 L343.30,696.59 L345.96,698.04 L348.62,699.47 L351.29,700.88 L353.96,702.29 L356.63,703.68 L359.30,705.07 L361.97,706.46 L364.63,707.84 L367.29,709.23 L369.95,710.61 L372.60,712.01 L375.23,713.41 L377.86,714.82 L380.48,716.25 L383.09,717.69 L385.68,719.14 L388.25,720.62 L390.81,722.12 L393.35,723.65 L395.87,725.20 L398.37,726.78 L400.84,728.40 L403.29,730.04 L405.72,731.73 L408.12,733.45 L410.49,735.22 L412.83,737.03 L415.14,738.89 L417.42,740.79 L419.67,742.75 L421.88,744.75 L424.06,746.81 L426.20,748.91 L428.32,751.05 L430.40,753.23 L432.46,755.45 L434.49,757.70 L436.50,759.98 L438.48,762.29 L440.43,764.63 L442.37,766.98 L444.28,769.36 L446.17,771.75 L448.05,774.15 L449.90,776.56 L451.74,778.98 L453.57,781.40 L455.38,783.83 L457.17,786.26 L458.95,788.70 L460.71,791.14 L462.45,793.60 L464.18,796.05 L465.89,798.52 L467.59,800.99 L469.27,803.47 L470.94,805.96 L472.59,808.46 L474.22,810.96 L475.84,813.48 L477.44,816.00 L479.02,818.53 L480.59,821.07 L482.14,823.62 L483.68,826.19 L485.20,828.76 L486.70,831.34 L488.19,833.93 L489.67,836.53 L491.14,839.13 L492.61,841.74 L494.06,844.36 L495.51,846.98 L496.95,849.60 L498.39,852.23 L499.83,854.86 L501.27,857.49 L502.70,860.12 L504.14,862.76 L505.59,865.39 L507.04,868.02 L508.49,870.64 L509.95,873.26 L511.42,875.88 L512.90,878.50 L514.40,881.10 L515.90,883.71 L517.43,886.30 L518.96,888.89 L520.52,891.46 L522.09,894.03 L523.68,896.59 L525.29,899.13 L526.93,901.67 L528.58,904.19 L530.26,906.69 L531.96,909.18 L533.68,911.66 L535.42,914.12 L537.19,916.57 L538.97,918.99 L540.78,921.40 L542.62,923.79 L544.47,926.16 L546.35,928.51 L548.26,930.84 L550.19,933.14 L552.14,935.42 L554.12,937.68 L556.12,939.91 L558.15,942.12 L560.20,944.30 L562.28,946.45 L564.38,948.58 L566.51,950.68 L568.67,952.75 L570.85,954.78 L573.06,956.79 L575.29,958.77 L577.56,960.71 L579.85,962.62 L582.16,964.50 L584.51,966.34 L586.88,968.14 L589.29,969.91 L591.72,971.64 L594.18,973.33 L596.67,974.99 L599.18,976.61 L601.73,978.18 L604.30,979.73 L606.89,981.23 L609.51,982.70 L612.15,984.13 L614.82,985.53 L617.50,986.90 L620.21,988.23 L622.93,989.53 L625.67,990.80 L628.43,992.04 L631.20,993.24 L633.98,994.42 L636.78,995.56 L639.60,996.68 L642.42,997.76 L645.25,998.83 L648.09,999.86 L650.94,1000.87 L653.80,1001.85 L656.66,1002.80 L659.53,1003.73 L662.41,1004.64 L665.29,1005.51 L668.17,1006.37 L671.06,1007.19 L673.96,1007.99 L676.86,1008.76 L679.76,1009.50 L682.67,1010.21 L685.59,1010.89 L688.51,1011.55 L691.43,1012.17 L694.36,1012.76 L697.30,1013.32 L700.24,1013.85 L703.19,1014.35 L706.14,1014.81 L709.09,1015.24 L712.05,1015.64 L715.02,1016.01 L717.99,1016.34 L720.96,1016.63 L723.94,1016.89 L726.92,1017.12 L729.91,1017.30 L732.91,1017.46 L735.90,1017.57 L738.91,1017.65 L741.91,1017.70 L744.92,1017.72 L747.93,1017.72 L750.95,1017.71 L753.96,1017.69 L756.98,1017.66 L759.99,1017.63 L763.01,1017.61 L766.02,1017.60 L769.03,1017.60 L772.04,1017.62 L775.05,1017.66 L778.06,1017.73 L781.05,1017.84 L784.05,1017.99 L787.04,1018.16 L790.03,1018.37 L793.02,1018.61 L796.00,1018.87 L798.98,1019.16 L801.96,1019.47 L804.93,1019.80 L807.90,1020.14 L810.88,1020.50 L813.85,1020.88 L816.82,1021.26 L819.79,1021.66 L822.76,1022.06 L825.73,1022.46 L828.70,1022.86 L831.67,1023.27 L834.64,1023.68 L837.62,1024.10 L840.59,1024.51 L843.56,1024.93 L846.53,1025.35 L849.51,1025.77 L852.48,1026.19 L855.45,1026.61 L858.43,1027.03 L861.40,1027.45 L864.38,1027.87 L867.35,1028.29 L870.33,1028.72 L873.30,1029.14 L876.28,1029.55 L879.26,1029.97 L882.23,1030.39 L885.21,1030.80 L888.19,1031.21 L891.17,1031.62 L894.14,1032.03 L897.12,1032.43 L900.10,1032.84 L903.08,1033.23 L906.06,1033.63 L909.04,1034.02 L912.02,1034.41 L915.00,1034.79 L917.98,1035.17 L920.96,1035.54 L923.94,1035.91 L926.92,1036.28 L929.91,1036.64 L932.89,1037.00 L935.87,1037.36 L938.85,1037.71 L941.84,1038.06 L944.82,1038.41 L947.80,1038.75 L950.79,1039.09 L953.77,1039.43 L956.76,1039.76 L959.74,1040.09 L962.73,1040.42 L965.71,1040.74 L968.70,1041.06 L971.68,1041.38 L974.67,1041.70 L977.65,1042.01 L980.64,1042.32 L983.63,1042.63 L986.61,1042.93 L989.60,1043.24 L992.59,1043.54 L995.58,1043.83 L998.56,1044.13 L1001.55,1044.42 L1004.54,1044.71 L1007.53,1045.00 L1010.52,1045.29 L1013.50,1045.58 L1016.49,1045.86 L1019.48,1046.14 L1022.47,1046.42 L1025.46,1046.70 L1028.45,1046.97 L1031.44,1047.25 L1034.43,1047.52 L1037.42,1047.79 L1040.41,1048.06 L1043.40,1048.33 L1046.39,1048.59 L1049.38,1048.86 L1052.37,1049.12 L1055.36,1049.39 L1058.35,1049.65 L1061.34,1049.91 L1064.33,1050.17 L1067.32,1050.43 L1070.31,1050.69 L1073.30,1050.94 L1076.30,1051.20 L1079.29,1051.46 L1082.28,1051.71 L1085.27,1051.97 L1088.26,1052.22 L1091.25,1052.47 L1094.25,1052.73 L1097.24,1052.98 L1100.23,1053.23 L1103.22,1053.49 L1106.21,1053.74 L1109.20,1053.99 L1112.20,1054.24 L1115.19,1054.49 L1118.18,1054.75 L1121.17,1055.00 L1124.17,1055.25 L1127.16,1055.50 L1130.15,1055.76 L1133.14,1056.01 L1136.13,1056.27 L1139.13,1056.52 L1142.12,1056.77 L1145.11,1057.03 L1148.10,1057.29 L1151.09,1057.54 L1154.09,1057.80 L1157.08,1058.06 L1160.07,1058.32 L1163.06,1058.58 L1166.06,1058.84 L1169.05,1059.11 L1172.04,1059.37 L1175.03,1059.63 L1178.02,1059.90 L1181.01,1060.17 L1184.01,1060.44 L1187.00,1060.71 L1189.99,1060.98 L1192.98,1061.26 L1195.97,1061.53 L1198.96,1061.81 L1201.95,1062.09 L1204.95,1062.37 L1207.94,1062.65 L1210.93,1062.93 L1213.92,1063.22 L1216.91,1063.50 L1219.90,1063.79 L1222.89,1064.08 L1225.88,1064.37 L1228.87,1064.66 L1231.86,1064.96 L1234.85,1065.25 L1237.83,1065.55 L1240.82,1065.84 L1243.81,1066.14 L1246.80,1066.44 L1249.79,1066.74 L1252.77,1067.04 L1255.76,1067.34 L1258.74,1067.64 L1261.73,1067.94 L1264.71,1068.24 L1267.70,1068.55 L1270.68,1068.85 L1273.66,1069.16 L1276.65,1069.46 L1279.63,1069.77 L1282.61,1070.07 L1285.59,1070.38 L1288.57,1070.68 L1291.55,1070.99 L1294.53,1071.30 L1297.50,1071.60 L1300.48,1071.91 L1303.46,1072.22 L1306.43,1072.52 L1309.40,1072.83 L1312.38,1073.14 L1315.35,1073.44 L1318.32,1073.75 L1321.29,1074.05 L1324.27,1074.35 L1327.24,1074.64 L1330.21,1074.93 L1333.19,1075.22 L1336.16,1075.49 L1339.14,1075.76 L1342.11,1076.02 L1345.09,1076.27 L1348.08,1076.50 L1351.06,1076.73 L1354.05,1076.94 L1357.04,1077.14 L1360.04,1077.32 L1363.03,1077.49 L1366.04,1077.63 L1369.04,1077.77 L1372.05,1077.89 L1375.06,1078.03 L1378.07,1078.18 L1381.07,1078.37 L1384.07,1078.62 L1387.06,1078.93 L1390.03,1079.32 L1393.00,1079.80 L1395.95,1080.39 L1398.88,1081.10 L1401.80,1081.94" fill="none" stroke="#0000f5" stroke-width="5" stroke-linecap="round" stroke-linejoin="round"/>
<g stroke="#111" stroke-width="3.4" fill="none" stroke-linecap="round" stroke-linejoin="round">
<line x1="223.5" y1="37.2" x2="223.5" y2="1269.3"/>
<line x1="1403.3" y1="37.2" x2="1403.3" y2="1269.3"/>
<line x1="223.5" y1="1269.3" x2="1403.3" y2="1269.3"/>
<line x1="205.5" y1="1269.3" x2="223.5" y2="1269.3"/>
<line x1="213.5" y1="1207.7" x2="223.5" y2="1207.7"/>
<line x1="205.5" y1="1146.1" x2="223.5" y2="1146.1"/>
<line x1="213.5" y1="1084.5" x2="223.5" y2="1084.5"/>
<line x1="205.5" y1="1022.9" x2="223.5" y2="1022.9"/>
<line x1="213.5" y1="961.3" x2="223.5" y2="961.3"/>
<line x1="205.5" y1="899.7" x2="223.5" y2="899.7"/>
<line x1="213.5" y1="838.1" x2="223.5" y2="838.1"/>
<line x1="205.5" y1="776.5" x2="223.5" y2="776.5"/>
<line x1="213.5" y1="714.9" x2="223.5" y2="714.9"/>
<line x1="205.5" y1="653.2" x2="223.5" y2="653.2"/>
<line x1="213.5" y1="591.6" x2="223.5" y2="591.6"/>
<line x1="205.5" y1="530.0" x2="223.5" y2="530.0"/>
<line x1="213.5" y1="468.4" x2="223.5" y2="468.4"/>
<line x1="205.5" y1="406.8" x2="223.5" y2="406.8"/>
<line x1="213.5" y1="345.2" x2="223.5" y2="345.2"/>
<line x1="205.5" y1="283.6" x2="223.5" y2="283.6"/>
<line x1="213.5" y1="222.0" x2="223.5" y2="222.0"/>
<line x1="205.5" y1="160.4" x2="223.5" y2="160.4"/>
<line x1="213.5" y1="98.8" x2="223.5" y2="98.8"/>
<line x1="205.5" y1="37.2" x2="223.5" y2="37.2"/>
<line x1="1403.3" y1="1269.3" x2="1413.3" y2="1269.3"/>
<line x1="1403.3" y1="1166.6" x2="1421.3" y2="1166.6"/>
<line x1="1403.3" y1="1064.0" x2="1413.3" y2="1064.0"/>
<line x1="1403.3" y1="961.3" x2="1421.3" y2="961.3"/>
<line x1="1403.3" y1="858.6" x2="1413.3" y2="858.6"/>
<line x1="1403.3" y1="755.9" x2="1421.3" y2="755.9"/>
<line x1="1403.3" y1="653.2" x2="1413.3" y2="653.2"/>
<line x1="1403.3" y1="550.6" x2="1421.3" y2="550.6"/>
<line x1="1403.3" y1="447.9" x2="1413.3" y2="447.9"/>
<line x1="1403.3" y1="345.2" x2="1421.3" y2="345.2"/>
<line x1="1403.3" y1="242.6" x2="1413.3" y2="242.6"/>
<line x1="1403.3" y1="139.9" x2="1421.3" y2="139.9"/>
<line x1="1403.3" y1="37.2" x2="1413.3" y2="37.2"/>
<line x1="223.5" y1="1269.3" x2="223.5" y2="1303.3"/>
<line x1="321.8" y1="1269.3" x2="321.8" y2="1286.3"/>
<line x1="420.1" y1="1269.3" x2="420.1" y2="1303.3"/>
<line x1="518.5" y1="1269.3" x2="518.5" y2="1286.3"/>
<line x1="616.8" y1="1269.3" x2="616.8" y2="1303.3"/>
<line x1="715.1" y1="1269.3" x2="715.1" y2="1286.3"/>
<line x1="813.4" y1="1269.3" x2="813.4" y2="1303.3"/>
<line x1="911.7" y1="1269.3" x2="911.7" y2="1286.3"/>
<line x1="1010.0" y1="1269.3" x2="1010.0" y2="1303.3"/>
<line x1="1108.3" y1="1269.3" x2="1108.3" y2="1286.3"/>
<line x1="1206.7" y1="1269.3" x2="1206.7" y2="1303.3"/>
<line x1="1305.0" y1="1269.3" x2="1305.0" y2="1286.3"/>
<line x1="1403.3" y1="1269.3" x2="1403.3" y2="1303.3"/>
</g>
</svg></body></html>
